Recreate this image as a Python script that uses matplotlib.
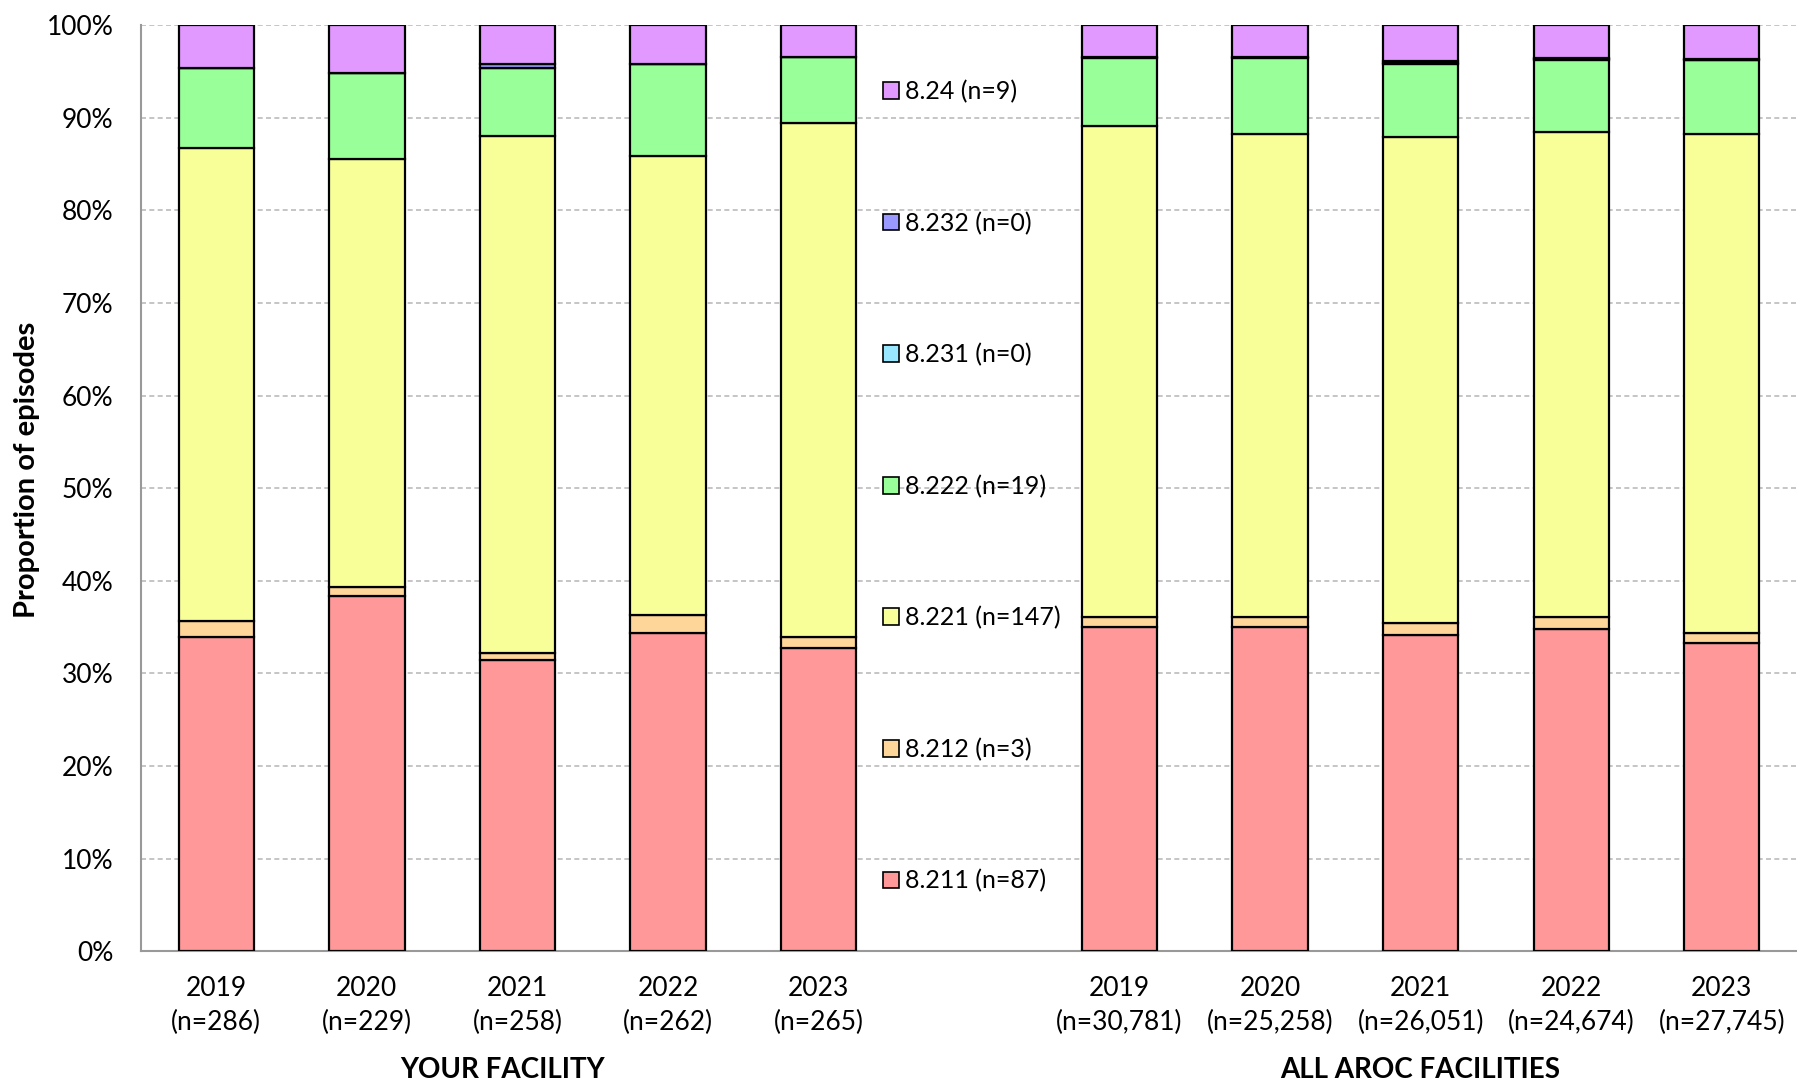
import matplotlib
matplotlib.use('Agg')
import matplotlib.pyplot as plt
from matplotlib.patches import Patch
import numpy as np

plt.rcParams['font.family'] = ['Lato', 'DejaVu Sans']

years = ['2019', '2020', '2021', '2022', '2023']
fac_n = [286, 229, 258, 262, 265]
aroc_n = ['30,781', '25,258', '26,051', '24,674', '27,745']

cats = ['8.211', '8.212', '8.221', '8.222', '8.231', '8.232', '8.24']
cat_n = [87, 3, 147, 19, 0, 0, 9]
colors = ['#FF9999', '#FFD699', '#F8FF99', '#99FF99', '#99E6FF', '#9999FF', '#E199FF']

# your facility, % of episodes per year
fac_pct = {
    '8.211': [33.9, 38.4, 31.4, 34.4, 32.8],
    '8.212': [1.8, 0.9, 0.8, 1.9, 1.1],
    '8.221': [51.0, 46.3, 55.8, 49.6, 55.5],
    '8.222': [8.7, 9.2, 7.4, 9.9, 7.2],
    '8.231': [0.0, 0.0, 0.0, 0.0, 0.0],
    '8.232': [0.0, 0.0, 0.4, 0.0, 0.0],
    '8.24': [4.6, 5.2, 4.2, 4.2, 3.4],
}
# all AROC facilities
aroc_pct = {
    '8.211': [35.0, 35.0, 34.1, 34.8, 33.3],
    '8.212': [1.1, 1.1, 1.4, 1.3, 1.1],
    '8.221': [53.0, 52.2, 52.4, 52.4, 53.9],
    '8.222': [7.4, 8.2, 7.9, 7.7, 7.9],
    '8.231': [0.05, 0.05, 0.15, 0.15, 0.05],
    '8.232': [0.05, 0.05, 0.15, 0.15, 0.05],
    '8.24': [3.4, 3.4, 3.9, 3.5, 3.7],
}

fig = plt.figure(figsize=(17.97, 10.81), dpi=100)
ax = fig.add_axes([0.0785, 0.12, 0.9215, 0.8567])

x_fac = np.arange(5)
x_aroc = np.arange(6, 11)
xs = np.concatenate([x_fac, x_aroc])

bottom = np.zeros(10)
for c, col in zip(cats, colors):
    vals = np.array(fac_pct[c] + aroc_pct[c])
    ax.bar(xs, vals, width=0.5, bottom=bottom, color=col,
           edgecolor='black', linewidth=1.6, zorder=3)
    bottom += vals

ax.set_xlim(-0.5, 10.5)
ax.set_ylim(0, 100)
ax.set_yticks(np.arange(0, 101, 10))
ax.set_yticklabels([f'{v}%' for v in range(0, 101, 10)], fontsize=19)
ax.yaxis.grid(True, linestyle=(0, (3, 2)), color='#BBBBBB', linewidth=1.2, zorder=0)

xlabels = [f'{y}\n(n={n})' for y, n in zip(years, fac_n)] + \
          [f'{y}\n(n={n})' for y, n in zip(years, aroc_n)]
ax.set_xticks(xs)
ax.set_xticklabels(xlabels, fontsize=19, linespacing=1.45)
ax.tick_params(axis='x', length=0, pad=18)
ax.tick_params(axis='y', length=0, pad=20)

for s in ['top', 'right']:
    ax.spines[s].set_visible(False)
ax.spines['left'].set_color('#999999')
ax.spines['bottom'].set_color('#999999')
ax.spines['left'].set_linewidth(1.5)
ax.spines['bottom'].set_linewidth(1.5)

ax.set_ylabel('Proportion of episodes', fontsize=21, fontweight='bold', va='center')
ax.yaxis.set_label_coords(-0.069, 0.52)

ax.text(1.9, -0.137, 'YOUR FACILITY', transform=ax.get_xaxis_transform(),
        ha='center', va='baseline', fontsize=20, fontweight='bold')
ax.text(8.0, -0.137, 'ALL AROC FACILITIES', transform=ax.get_xaxis_transform(),
        ha='center', va='baseline', fontsize=20, fontweight='bold')

handles = [Patch(facecolor=col, edgecolor='black', linewidth=1.2,
                 label=f'{c} (n={n})') for c, n, col in zip(cats, cat_n, colors)]
ax.legend(handles=handles[::-1], loc='center left', bbox_to_anchor=(0.448, 0.502),
          frameon=False, fontsize=18, handlelength=0.65, handleheight=0.65,
          handletextpad=0.25, labelspacing=4.33, borderpad=0, borderaxespad=0)

fig.savefig('out.png', dpi=100)
